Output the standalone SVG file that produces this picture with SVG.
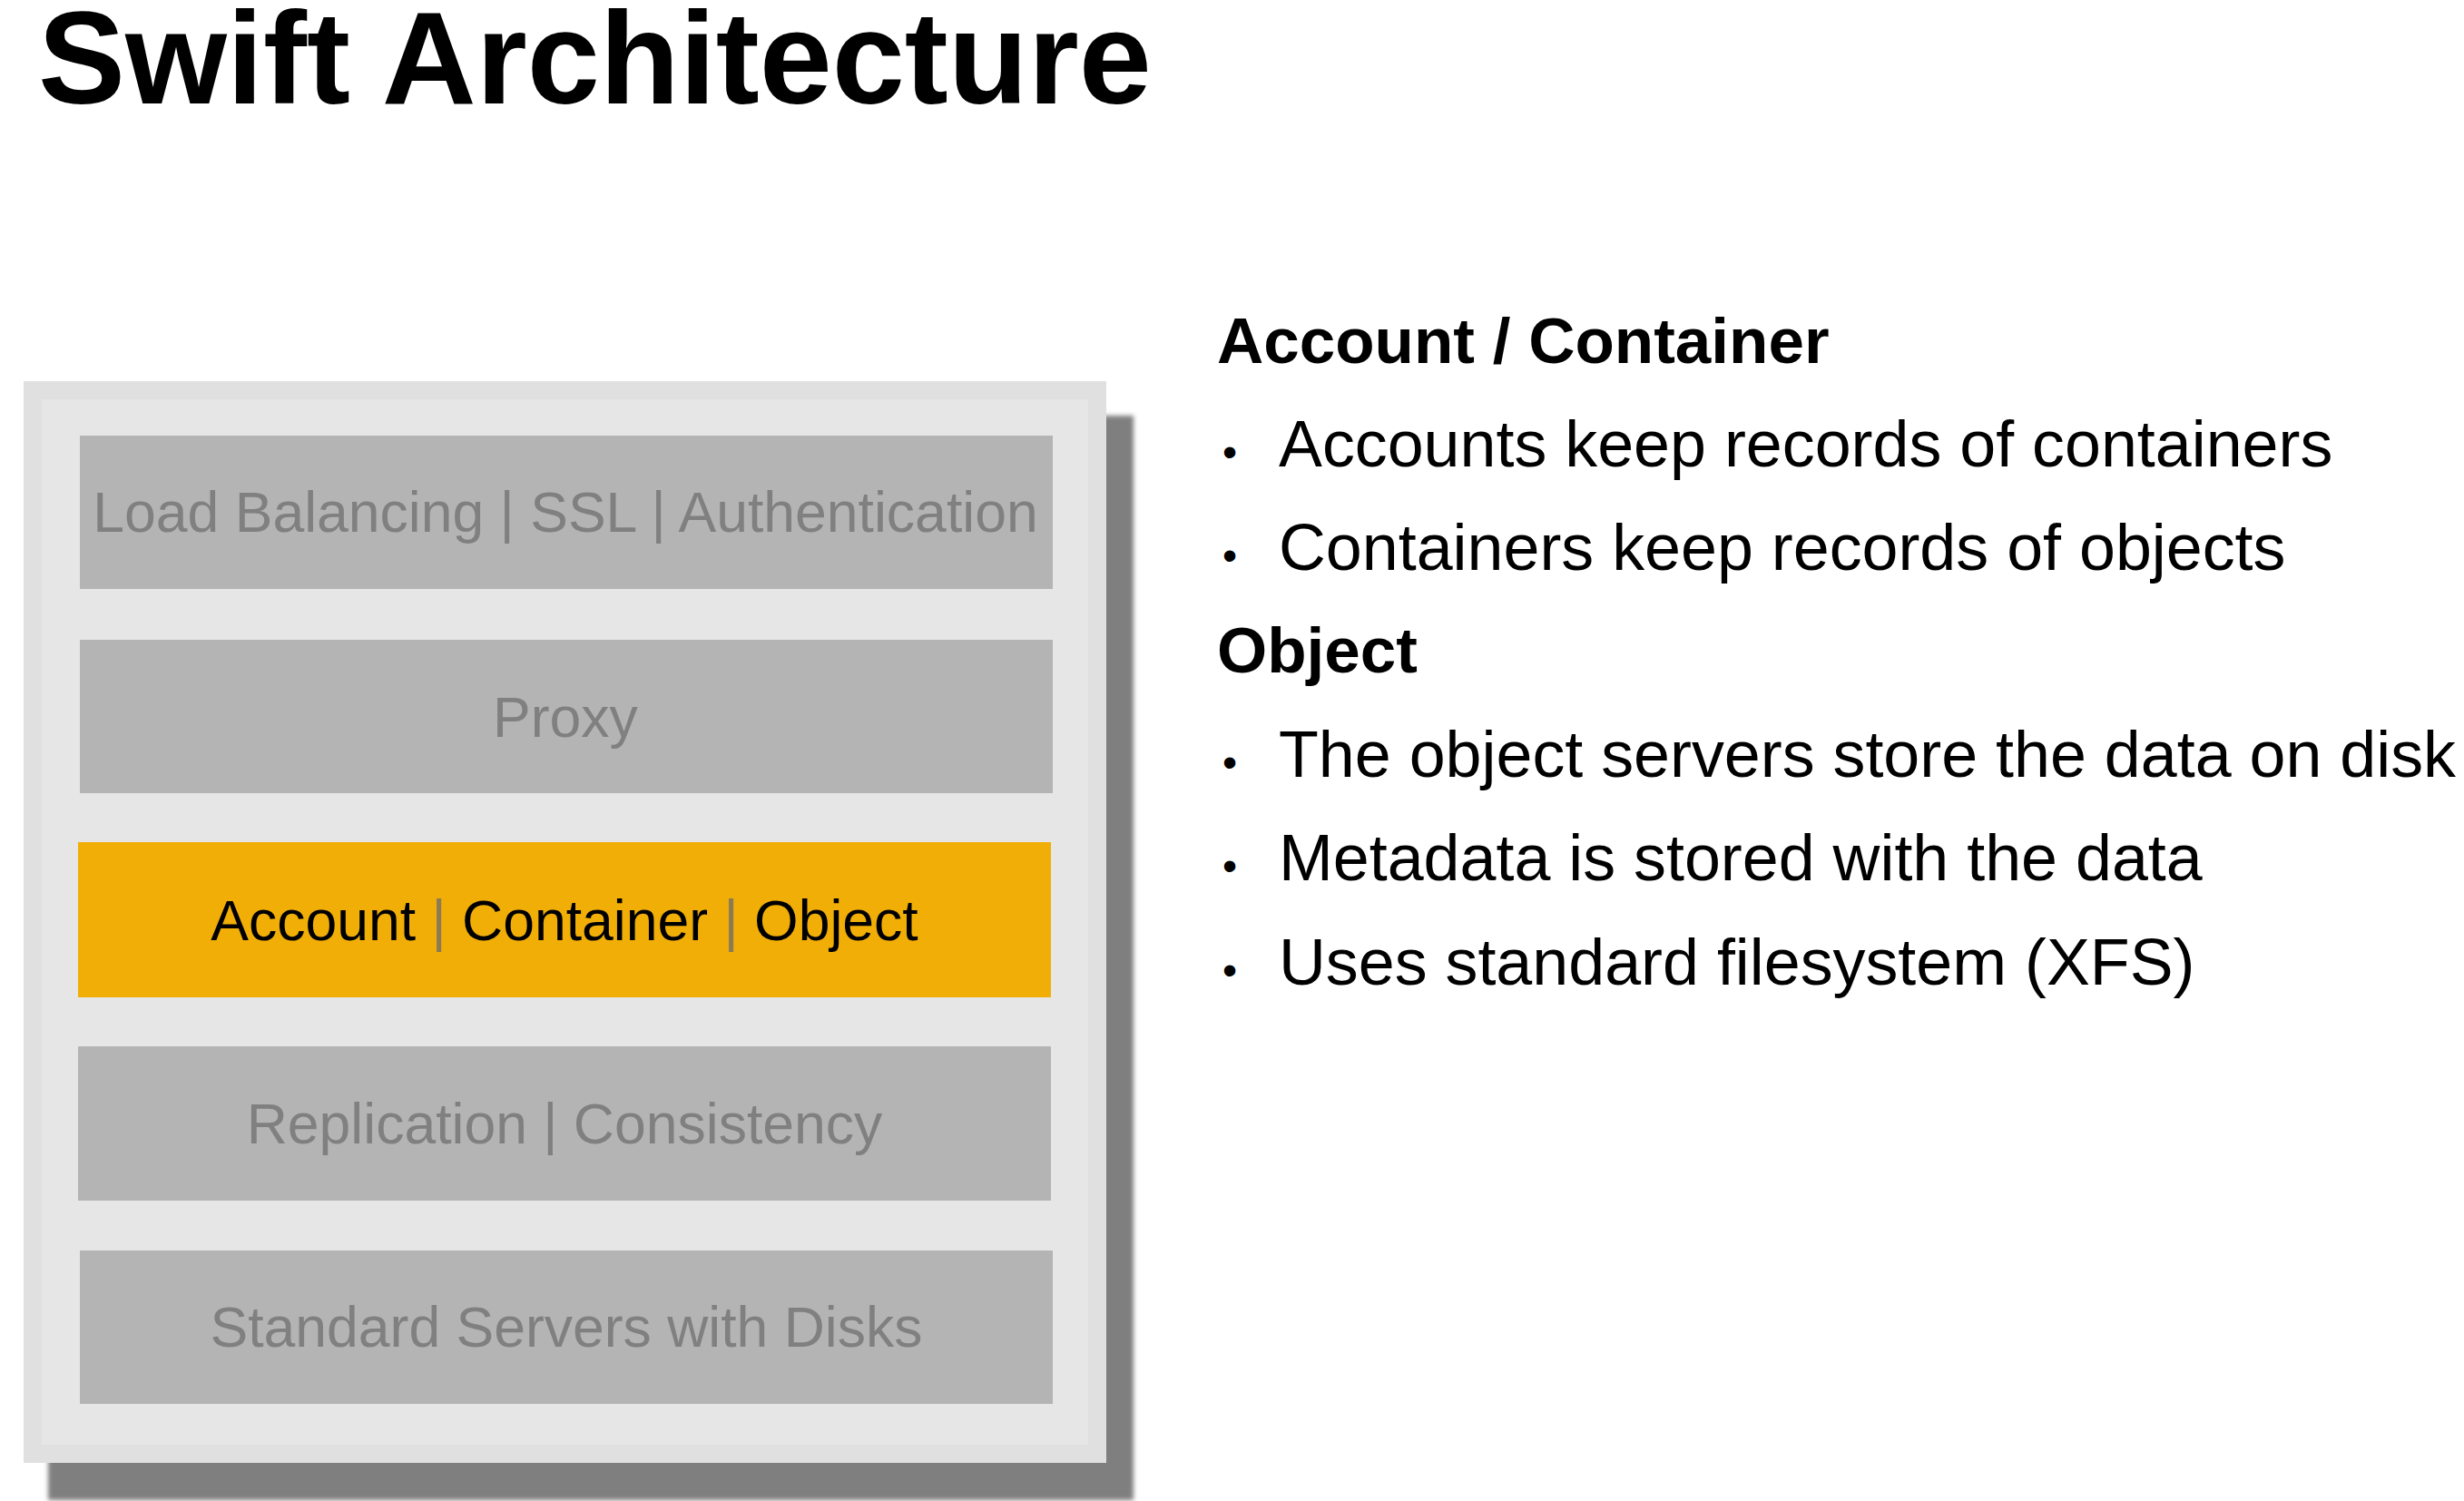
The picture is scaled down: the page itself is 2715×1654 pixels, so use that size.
<svg xmlns="http://www.w3.org/2000/svg" width="2715" height="1654" viewBox="0 0 2715 1654">
<style>
.box{fill:#b4b4b4}
.lbl{font-family:"Liberation Sans",Arial,sans-serif;font-size:62.5px;fill:#808080;text-anchor:middle}
.dark{fill:#000}
.sep{fill:#8a7a55}
.head{font-family:"Liberation Sans",Arial,sans-serif;font-size:71px;font-weight:bold;fill:#000}
.item{font-family:"Liberation Sans",Arial,sans-serif;font-size:71.8px;fill:#000}
.bul{font-family:"Liberation Sans",Arial,sans-serif;font-size:46px;fill:#000}
</style>
<defs>
<filter id="soft" x="-5%" y="-5%" width="110%" height="110%"><feGaussianBlur stdDeviation="2.5"/></filter>
</defs>
<rect width="2715" height="1654" fill="#fff"/>
<text x="42" y="114" font-family="Liberation Sans, Arial, sans-serif" font-size="144" font-weight="bold" fill="#000">Swift Architecture</text>
<g id="stack">
<rect x="53" y="458" width="1196" height="1195" fill="#7f7f7f" filter="url(#soft)"/>
<rect x="26" y="420" width="1193" height="1192" fill="#e0e0e0"/>
<rect x="46" y="440" width="1153" height="1152" fill="#e6e6e6"/>
</g>
<g id="node-lb">
<rect class="box" x="88" y="480" width="1072" height="169"/>
<text class="lbl" x="623" y="586">Load Balancing | SSL | Authentication</text>
</g>
<g id="node-proxy">
<rect class="box" x="88" y="705" width="1072" height="169"/>
<text class="lbl" x="623" y="812">Proxy</text>
</g>
<g id="node-aco">
<rect x="86" y="928" width="1072" height="171" fill="#f1ae06"/>
<text class="lbl" x="622" y="1036"><tspan class="dark">Account</tspan> <tspan class="sep">|</tspan> <tspan class="dark">Container</tspan> <tspan class="sep">|</tspan> <tspan class="dark">Object</tspan></text>
</g>
<g id="node-repl">
<rect class="box" x="86" y="1153" width="1072" height="170"/>
<text class="lbl" x="622" y="1260">Replication | Consistency</text>
</g>
<g id="node-servers">
<rect class="box" x="88" y="1378" width="1072" height="169"/>
<text class="lbl" x="624" y="1484">Standard Servers with Disks</text>
</g>
<g id="connectors"/>
<g id="notes">
<text class="head" x="1341" y="400">Account / Container</text>
<text class="bul" x="1347" y="514">•</text>
<text class="item" x="1409" y="514">Accounts keep records of containers</text>
<text class="bul" x="1347" y="628">•</text>
<text class="item" x="1409" y="628">Containers keep records of objects</text>
<text class="head" x="1341" y="741">Object</text>
<text class="bul" x="1347" y="856">•</text>
<text class="item" x="1409" y="856">The object servers store the data on disk</text>
<text class="bul" x="1347" y="970">•</text>
<text class="item" x="1409" y="970">Metadata is stored with the data</text>
<text class="bul" x="1347" y="1085">•</text>
<text class="item" x="1409" y="1085">Uses standard filesystem (XFS)</text>
</g>
</svg>
